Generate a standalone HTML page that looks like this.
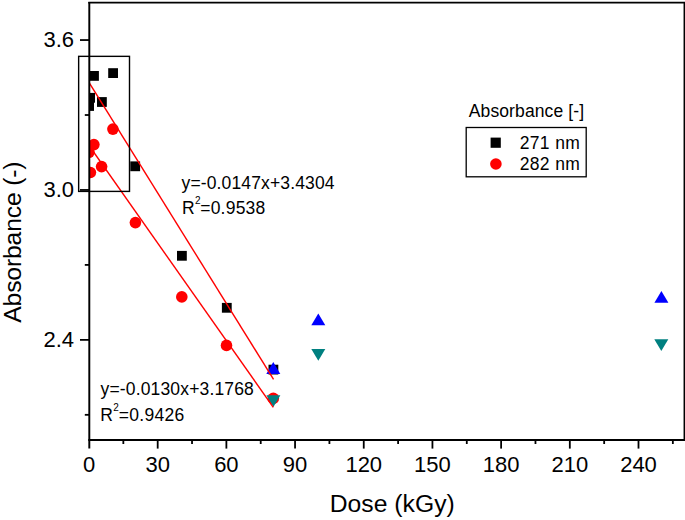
<!DOCTYPE html>
<html><head><meta charset="utf-8"><style>
html,body{margin:0;padding:0;background:#fff;width:685px;height:520px;overflow:hidden;}
svg{display:block;font-family:"Liberation Sans",sans-serif;}
</style></head><body><svg width="685" height="520" viewBox="0 0 685 520" font-family="Liberation Sans, sans-serif" fill="#000"><defs><clipPath id="pc"><rect x="89.3" y="2.6" width="595" height="437.4"/></clipPath></defs><g clip-path="url(#pc)"><rect x="89.10" y="71.00" width="9.8" height="9.8"/><rect x="108.20" y="68.20" width="9.8" height="9.8"/><rect x="97.00" y="97.10" width="9.8" height="9.8"/><rect x="85.20" y="92.90" width="9.8" height="9.8"/><rect x="84.20" y="101.10" width="9.8" height="9.8"/><rect x="130.30" y="161.40" width="9.8" height="9.8"/><rect x="177.00" y="250.90" width="9.8" height="9.8"/><rect x="221.90" y="302.90" width="9.8" height="9.8"/><rect x="268.50" y="364.70" width="9.8" height="9.8"/><circle cx="112.90" cy="129.10" r="5.8" fill="#f00"/><circle cx="93.90" cy="144.60" r="5.8" fill="#f00"/><circle cx="89.00" cy="152.30" r="5.8" fill="#f00"/><circle cx="101.60" cy="166.60" r="5.8" fill="#f00"/><circle cx="90.40" cy="172.50" r="5.8" fill="#f00"/><circle cx="135.40" cy="222.60" r="5.8" fill="#f00"/><circle cx="181.80" cy="296.90" r="5.8" fill="#f00"/><circle cx="226.50" cy="345.40" r="5.8" fill="#f00"/><circle cx="273.30" cy="398.40" r="5.8" fill="#f00"/><path d="M273.30 362.10L280.30 373.90L266.30 373.90Z" fill="#00f"/><path d="M318.30 313.50L325.30 325.30L311.30 325.30Z" fill="#00f"/><path d="M661.40 290.90L668.40 302.70L654.40 302.70Z" fill="#00f"/><path d="M266.40 395.30L280.40 395.30L273.40 407.10Z" fill="#008080"/><path d="M311.30 348.90L325.30 348.90L318.30 360.70Z" fill="#008080"/><path d="M654.30 339.30L668.30 339.30L661.30 351.10Z" fill="#008080"/><line x1="88.85" y1="82.2" x2="273.55" y2="379.4" stroke="#f00" stroke-width="1.4"/><line x1="89.0" y1="145.5" x2="273.3" y2="407.4" stroke="#f00" stroke-width="1.4"/></g><rect x="78.65" y="56.35" width="50.85" height="135.05" fill="none" stroke="#000" stroke-width="1.4"/><path d="M89.3 2V448.6" stroke="#000" stroke-width="1.95" fill="none"/><path d="M88.3 2.65H685" stroke="#000" stroke-width="1.65" fill="none"/><path d="M684.4 2V441" stroke="#000" stroke-width="1.7" fill="none"/><path d="M88.3 440H685" stroke="#000" stroke-width="1.9" fill="none"/><line x1="123.34" y1="440" x2="123.34" y2="444" stroke="#000" stroke-width="1.8"/><line x1="157.69" y1="440" x2="157.69" y2="448.6" stroke="#000" stroke-width="1.8"/><line x1="192.03" y1="440" x2="192.03" y2="444" stroke="#000" stroke-width="1.8"/><line x1="226.38" y1="440" x2="226.38" y2="448.6" stroke="#000" stroke-width="1.8"/><line x1="260.72" y1="440" x2="260.72" y2="444" stroke="#000" stroke-width="1.8"/><line x1="295.06" y1="440" x2="295.06" y2="448.6" stroke="#000" stroke-width="1.8"/><line x1="329.41" y1="440" x2="329.41" y2="444" stroke="#000" stroke-width="1.8"/><line x1="363.75" y1="440" x2="363.75" y2="448.6" stroke="#000" stroke-width="1.8"/><line x1="398.10" y1="440" x2="398.10" y2="444" stroke="#000" stroke-width="1.8"/><line x1="432.44" y1="440" x2="432.44" y2="448.6" stroke="#000" stroke-width="1.8"/><line x1="466.78" y1="440" x2="466.78" y2="444" stroke="#000" stroke-width="1.8"/><line x1="501.13" y1="440" x2="501.13" y2="448.6" stroke="#000" stroke-width="1.8"/><line x1="535.47" y1="440" x2="535.47" y2="444" stroke="#000" stroke-width="1.8"/><line x1="569.82" y1="440" x2="569.82" y2="448.6" stroke="#000" stroke-width="1.8"/><line x1="604.16" y1="440" x2="604.16" y2="444" stroke="#000" stroke-width="1.8"/><line x1="638.50" y1="440" x2="638.50" y2="448.6" stroke="#000" stroke-width="1.8"/><line x1="672.85" y1="440" x2="672.85" y2="444" stroke="#000" stroke-width="1.8"/><line x1="80" y1="40.05" x2="89" y2="40.05" stroke="#000" stroke-width="1.8"/><line x1="84.8" y1="115.01" x2="89" y2="115.01" stroke="#000" stroke-width="1.8"/><line x1="80" y1="189.96" x2="89" y2="189.96" stroke="#000" stroke-width="1.8"/><line x1="84.8" y1="264.91" x2="89" y2="264.91" stroke="#000" stroke-width="1.8"/><line x1="80" y1="339.87" x2="89" y2="339.87" stroke="#000" stroke-width="1.8"/><line x1="84.8" y1="414.82" x2="89" y2="414.82" stroke="#000" stroke-width="1.8"/><text x="89.00" y="472" text-anchor="middle" font-size="22" letter-spacing="0">0</text><text x="157.69" y="472" text-anchor="middle" font-size="22" letter-spacing="0">30</text><text x="226.38" y="472" text-anchor="middle" font-size="22" letter-spacing="0">60</text><text x="295.06" y="472" text-anchor="middle" font-size="22" letter-spacing="0">90</text><text x="363.75" y="472" text-anchor="middle" font-size="22" letter-spacing="0">120</text><text x="432.44" y="472" text-anchor="middle" font-size="22" letter-spacing="0">150</text><text x="501.13" y="472" text-anchor="middle" font-size="22" letter-spacing="0">180</text><text x="569.82" y="472" text-anchor="middle" font-size="22" letter-spacing="0">210</text><text x="638.50" y="472" text-anchor="middle" font-size="22" letter-spacing="0">240</text><text x="74.0" y="47" text-anchor="end" font-size="22" letter-spacing="0">3.6</text><text x="74.0" y="197" text-anchor="end" font-size="22" letter-spacing="0">3.0</text><text x="74.0" y="347" text-anchor="end" font-size="22" letter-spacing="0">2.4</text><text x="329.64" y="511.80" font-size="24.7" letter-spacing="0.034">Dose (kGy)</text><text transform="translate(21.1 242.17423985445913) rotate(-90)" text-anchor="middle" font-size="24.7" letter-spacing="-0.154">Absorbance (-)</text><text x="181.55" y="188.70" font-size="17.5" letter-spacing="0.134">y=-0.0147x+3.4304</text><text x="182.02" y="213.50" font-size="17.5" letter-spacing="0.227">R<tspan font-size="10" dx="0.0" dy="-9.6">2</tspan><tspan dx="-0.5" dy="9.6">=0.9538</tspan></text><text x="100.57" y="394.90" font-size="17.5" letter-spacing="0.151">y=-0.0130x+3.1768</text><text x="100.32" y="420.60" font-size="17.5" letter-spacing="0.317">R<tspan font-size="10" dx="0.0" dy="-9.6">2</tspan><tspan dx="-0.5" dy="9.6">=0.9426</tspan></text><text x="468.77" y="117.40" font-size="17.5" letter-spacing="0.112">Absorbance [-]</text><rect x="466.2" y="127.5" width="120" height="49.3" fill="none" stroke="#000" stroke-width="1.3"/><rect x="490.6" y="137.6" width="10.2" height="10.2"/><circle cx="495.9" cy="164" r="5.8" fill="#f00"/><text x="519.63" y="148.90" font-size="17.5" letter-spacing="0.388">271 nm</text><text x="519.63" y="169.90" font-size="17.5" letter-spacing="0.388">282 nm</text></svg></body></html>
